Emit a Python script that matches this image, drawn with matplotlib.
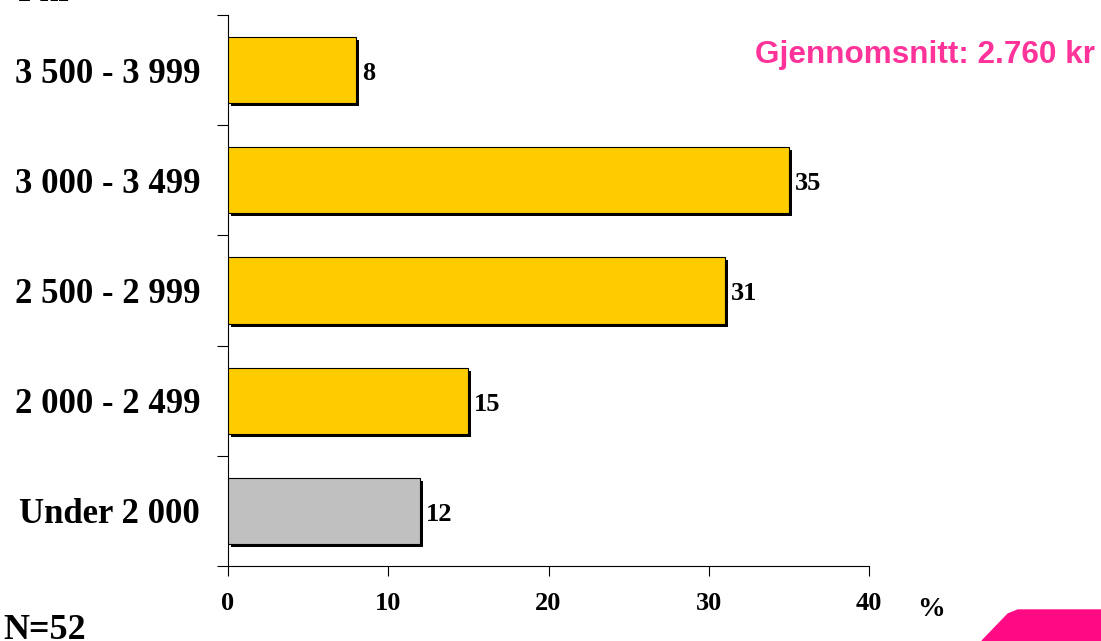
import matplotlib
matplotlib.use('Agg')
import matplotlib.pyplot as plt
from matplotlib.transforms import ScaledTranslation
from matplotlib.patches import Polygon

# data
categories = ['Under 2 000', '2 000 - 2 499', '2 500 - 2 999', '3 000 - 3 499', '3 500 - 3 999']
values = [12, 15, 31, 35, 8]
bar_colors = ['#c0c0c0', '#ffcc00', '#ffcc00', '#ffcc00', '#ffcc00']
xticks = [0, 10, 20, 30, 40]

serif = ['Liberation Serif', 'DejaVu Serif']
sans = ['Liberation Sans', 'DejaVu Sans']

fig = plt.figure(figsize=(11.01, 6.41), dpi=100)
ax = fig.add_axes([228/1101, 1-566/641, (869-228)/1101, (566-15)/641])

ypos = list(range(len(categories)))

# shadow behind bars
shadow = ax.transData + ScaledTranslation(3/100, -3/100, fig.dpi_scale_trans)
ax.barh(ypos, values, height=0.6, color='black', transform=shadow, zorder=2)
ax.barh(ypos, values, height=0.6, color=bar_colors, edgecolor='black', linewidth=0.8, zorder=3)

for y, v in zip(ypos, values):
    ax.text(v + 0.35, y - 0.03, str(v), ha='left', va='center', fontsize=19,
            fontweight='bold', family=serif)

ax.set_xlim(0, 40)
ax.set_ylim(-0.5, len(categories) - 0.5)
ax.set_xticks(xticks)
ax.set_xticklabels([str(t) for t in xticks], fontsize=19, fontweight='bold', family=serif)
ax.set_yticks(ypos)
ax.set_yticklabels(categories, fontsize=25, fontweight='bold', family=serif)
ax.set_yticks([y - 0.5 for y in ypos] + [len(categories) - 0.5], minor=True)
ax.tick_params(axis='y', which='major', length=0, pad=20)
ax.tick_params(axis='y', which='minor', length=8, width=0.8, direction='out')
ax.tick_params(axis='x', length=7, width=0.8, direction='out', pad=12)
ax.spines['top'].set_visible(False)
ax.spines['right'].set_visible(False)
ax.spines['left'].set_linewidth(0.8)
ax.spines['bottom'].set_linewidth(0.8)

fig.text(917/1101, 1-610/641, '%', fontsize=20, fontweight='bold', family=serif, va='center')
fig.text(3/1101, 1-639/641, 'N=52', fontsize=26, fontweight='bold', family=serif, va='baseline')
# heading cut off at the top edge, as in the original
fig.text(18/1101, 1-1/641, 'I kr', fontsize=24, fontweight='bold', family=serif, va='baseline')
fig.text(1095/1101, 1-55/641, 'Gjennomsnitt: 2.760 kr', fontsize=22.7, fontweight='bold',
         family=sans, color='#ff3399', ha='right', va='center')

# pink corner decoration
W, H = 1101, 641
pts = [(982, 641), (1008, 614), (1018, 610), (1101, 610), (1101, 641)]
fig.patches.append(Polygon([(x/W, 1-y/H) for x, y in pts], closed=True,
                           transform=fig.transFigure, color='#ff0a85'))

fig.savefig('out.png', dpi=100)
